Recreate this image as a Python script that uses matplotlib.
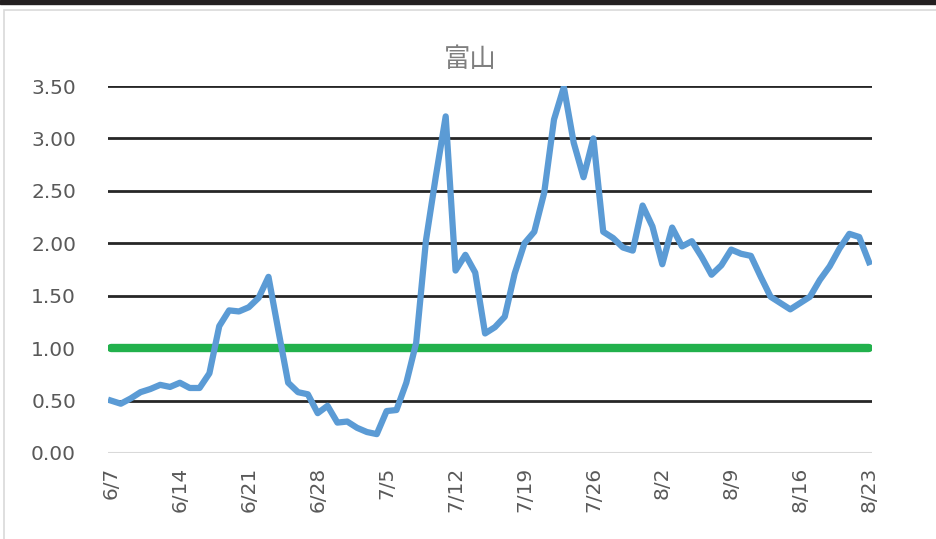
import matplotlib.pyplot as plt
import matplotlib.patches as mpatches
import numpy as np

plt.rcParams['font.family'] = ['DejaVu Sans', 'Noto Sans CJK JP']

title = "富山"
tick_labels = ["6/7", "6/14", "6/21", "6/28", "7/5", "7/12", "7/19", "7/26",
               "8/2", "8/9", "8/16", "8/23"]
# daily values from 6/7 to 8/23
values = [0.50, 0.47, 0.52, 0.58, 0.61, 0.65, 0.63, 0.67, 0.62, 0.62,
          0.76, 1.21, 1.36, 1.35, 1.39, 1.48, 1.68, 1.17, 0.67, 0.58,
          0.56, 0.38, 0.45, 0.29, 0.30, 0.24, 0.20, 0.18, 0.40, 0.41,
          0.67, 1.05, 2.03, 2.64, 3.21, 1.74, 1.89, 1.72, 1.14, 1.20,
          1.30, 1.71, 2.00, 2.11, 2.48, 3.18, 3.49, 2.96, 2.63, 3.00,
          2.11, 2.05, 1.96, 1.93, 2.36, 2.16, 1.80, 2.15, 1.97, 2.02,
          1.87, 1.70, 1.79, 1.94, 1.90, 1.88, 1.68, 1.49, 1.43, 1.37,
          1.43, 1.49, 1.65, 1.78, 1.95, 2.09, 2.06, 1.82]
threshold = 1.0

days = np.arange(len(values))

fig = plt.figure(figsize=(9.36, 5.39), dpi=100)
# dark strip on top and chart border
fig.patches.append(mpatches.Rectangle((0, 1 - 4/539), 1, 4/539, transform=fig.transFigure,
                                      color='#231f20', zorder=-2))
fig.patches.append(mpatches.Rectangle((4/936, -0.01), 1.0, 1 - 10/539 + 0.01, transform=fig.transFigure,
                                      facecolor='white', edgecolor='#d9d9d9', lw=1.2, zorder=-1))

ax = fig.add_axes([108/936, 86/539, 764/936, 367/539])
ax.set_facecolor('none')
for yv in np.arange(0.5, 3.51, 0.5):
    ax.axhline(yv, color='#262626', lw=2, zorder=1)
ax.axhline(0, color='#d9d9d9', lw=1.5, zorder=1)

ax.plot(days, values, color='#5b9bd5', lw=4.5, solid_joinstyle='round', zorder=3)
ax.plot([days[0], days[-1]], [threshold, threshold], color='#22b14c', lw=6,
        solid_capstyle='round', zorder=2)

ax.set_xlim(-0.3, len(values) - 1 + 0.3)
ax.set_ylim(0, 3.5)
ax.set_yticks(np.arange(0, 3.51, 0.5))
ax.set_yticklabels([f"{v:.2f}" for v in np.arange(0, 3.51, 0.5)])
ax.set_xticks(np.arange(0, len(values), 7))
ax.set_xticklabels(tick_labels, rotation=90)
for s in ax.spines.values():
    s.set_visible(False)
ax.tick_params(axis='both', length=0, colors='#595959', labelsize=14.5)
ax.tick_params(axis='y', pad=23)
ax.tick_params(axis='x', pad=10)

fig.text(470/936, 1 - 60/539, title, ha='center', va='center', fontsize=19,
         color='#7f7f7f', family=['Noto Sans CJK JP', 'DejaVu Sans'])

fig.savefig("out.png", dpi=100)
